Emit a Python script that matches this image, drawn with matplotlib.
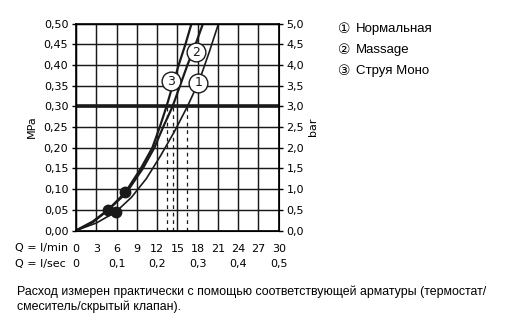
import matplotlib.pyplot as plt

# flow in l/min, pressure in MPa
q_normal = [0, 3, 5.9, 8.2, 10.4, 12.5, 14.6, 16.5, 18.2, 19.7, 21.1]
p_normal = [0, 0.018, 0.045, 0.08, 0.125, 0.18, 0.24, 0.30, 0.36, 0.43, 0.50]
q_massage = [0, 2.5, 4.7, 7.4, 9.9, 11.6, 12.9, 14.3, 15.4, 16.5, 17.7, 18.8]
p_massage = [0, 0.02, 0.049, 0.09, 0.15, 0.20, 0.25, 0.30, 0.35, 0.40, 0.45, 0.50]
q_mono = [0, 2.5, 4.7, 7.3, 9.6, 11.3, 12.4, 13.4, 14.3, 15.2, 16.2, 17.1]
p_mono = [0, 0.022, 0.049, 0.092, 0.15, 0.20, 0.25, 0.30, 0.35, 0.40, 0.45, 0.50]

dot_q = [4.7, 5.9, 7.3]
dot_p = [0.049, 0.045, 0.092]
dash_q = [13.4, 14.3, 16.5]
label_q = [18.1, 17.8, 14.1]
label_p = [0.357, 0.43, 0.36]
label_txt = ['1', '2', '3']

q_min_ticks = [0, 3, 6, 9, 12, 15, 18, 21, 24, 27, 30]
q_sec_ticks = [0, 0.1, 0.2, 0.3, 0.4, 0.5]
mpa_ticks = [0, 0.05, 0.10, 0.15, 0.20, 0.25, 0.30, 0.35, 0.40, 0.45, 0.50]
bar_ticks = [0, 0.5, 1.0, 1.5, 2.0, 2.5, 3.0, 3.5, 4.0, 4.5, 5.0]
legend_names = ['Нормальная', 'Massage', 'Струя Моно']
legend_marks = ['①', '②', '③']
note = ('Расход измерен практически с помощью соответствующей арматуры (термостат/\n'
        'смеситель/скрытый клапан).')

k = '#1a1a1a'
fig = plt.figure(figsize=(5.08, 3.24), dpi=100)
ax = fig.add_axes([76 / 508, 1 - 230.5 / 324, 202.7 / 508, 207 / 324])

for q in q_min_ticks:
    ax.axvline(q, color=k, lw=1.05, zorder=1)
for p in mpa_ticks:
    ax.axhline(p, color=k, lw=1.05, zorder=1)
ax.axhline(0.30, color=k, lw=2.6, zorder=2)
for q in dash_q:
    ax.plot([q, q], [0, 0.30], color=k, lw=0.9, ls=(0, (3, 3)), zorder=2)

ax.plot(q_normal, p_normal, color=k, lw=1.2, zorder=3)
ax.plot(q_massage, p_massage, color=k, lw=1.6, zorder=3)
ax.plot(q_mono, p_mono, color=k, lw=1.6, zorder=3)
ax.plot(dot_q, dot_p, 'o', color=k, ms=7.5, zorder=4)

for q, p, t in zip(label_q, label_p, label_txt):
    ax.plot(q, p, 'o', ms=13.5, mfc='white', mec=k, mew=1.0, zorder=5)
    ax.text(q, p, t, ha='center', va='center', fontsize=9, color=k, zorder=6)

ax.set_xlim(0, 30)
ax.set_ylim(0, 0.5)
for s in ax.spines.values():
    s.set_linewidth(1.2)
ax.set_xticks(q_min_ticks, [str(q) for q in q_min_ticks])
ax.tick_params(axis='x', length=0, pad=9.5, labelsize=8)
ax.set_yticks(mpa_ticks, [f'{p:.2f}'.replace('.', ',') for p in mpa_ticks])
ax.tick_params(axis='y', length=3, width=1, pad=2.5, labelsize=8)
ax.set_ylabel('MPa', fontsize=8)
ax.yaxis.set_label_coords(-0.194, 0.5)

sec = ax.secondary_xaxis('bottom', functions=(lambda q: q / 60, lambda s: s * 60))
sec.set_xticks(q_sec_ticks, ['0'] + [f'{s:.1f}'.replace('.', ',') for s in q_sec_ticks[1:]])
sec.tick_params(length=0, pad=20.5, labelsize=8)
sec.spines['bottom'].set_visible(False)

ax2 = ax.twinx()
ax2.set_ylim(0, 5)
ax2.set_yticks(bar_ticks, [f'{b:.1f}'.replace('.', ',') for b in bar_ticks])
ax2.tick_params(axis='y', length=3, width=1, pad=2.5, labelsize=8)
ax2.set_ylabel('bar', fontsize=8)
ax2.yaxis.set_label_coords(1.145, 0.5)

fig.text(15 / 508, 1 - 248.5 / 324, 'Q = l/min', fontsize=8, va='center')
fig.text(15 / 508, 1 - 264 / 324, 'Q = l/sec', fontsize=8, va='center')

for i, (m, name) in enumerate(zip(legend_marks, legend_names)):
    y = 1 - (29 + 20.8 * i) / 324
    fig.text(344 / 508, y, m, fontsize=10, ha='center', va='center', family='DejaVu Sans')
    fig.text(356 / 508, y, name, fontsize=9.5, va='center', family='Liberation Sans')

fig.text(17 / 508, 1 - 285 / 324, note, fontsize=8.9, va='top', family='Liberation Sans',
         linespacing=1.35)

fig.savefig('out.png', dpi=100)
